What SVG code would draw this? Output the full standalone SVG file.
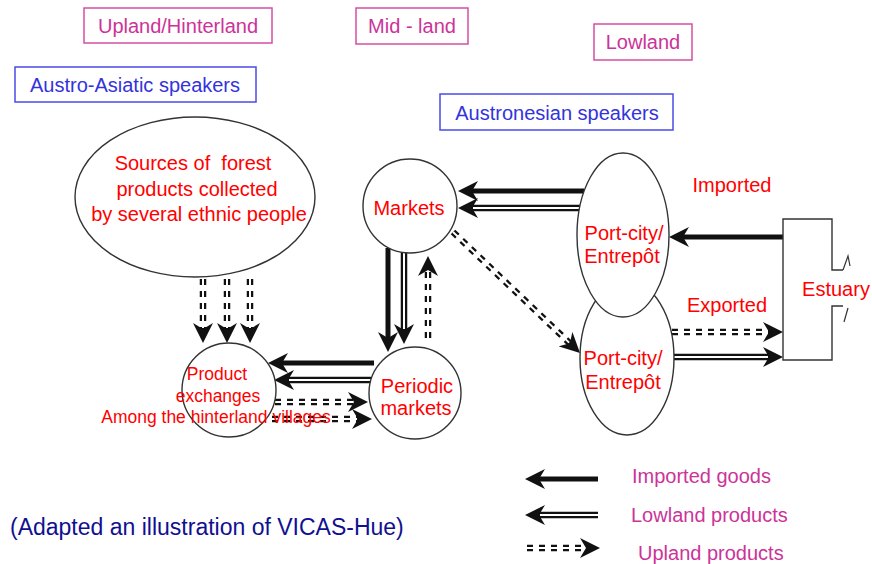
<svg xmlns="http://www.w3.org/2000/svg" width="872" height="564" viewBox="0 0 872 564">
<style>
text{font-family:"Liberation Sans",Arial,sans-serif;}
.redm{fill:#ff0000;font-size:20px;text-anchor:middle;}
.reds{fill:#ff0000;font-size:17.5px;text-anchor:middle;}
.pink{fill:#cc3399;font-size:20px;text-anchor:middle;}
.blue{fill:#3333dd;font-size:20px;text-anchor:middle;}
.leg{fill:#cc3399;font-size:20px;}
.pbox{fill:none;stroke:#d64ea3;stroke-width:1.5;}
.bbox{fill:none;stroke:#4a4ae8;stroke-width:1.5;}
.node{fill:#fff;stroke:#333;stroke-width:1.4;}
.thick{fill:none;stroke:#111;stroke-width:5;marker-end:url(#ah);}
.dbl{fill:none;stroke:#111;stroke-width:6.5;marker-end:url(#ah);}
.dsh{fill:none;stroke:#111;stroke-width:6.5;stroke-dasharray:6 6;marker-end:url(#ah);}
.wl{fill:none;stroke:#fff;stroke-width:2;}
</style>
<defs>
<marker id="ah" viewBox="0 0 20 20" refX="8" refY="10" markerWidth="20" markerHeight="20" markerUnits="userSpaceOnUse" orient="auto">
<path d="M0,0 L20,10 L0,20 L6,10 z" fill="#111"/>
</marker>
</defs>
<rect width="872" height="564" fill="#fff"/>

<g id="label-upland"><rect class="pbox" x="84" y="8" width="188" height="35"/><text class="pink" x="178" y="33">Upland/Hinterland</text></g>
<g id="label-austroasiatic"><rect class="bbox" x="15" y="67" width="241" height="35"/><text class="blue" x="135" y="92">Austro-Asiatic speakers</text></g>
<g id="label-midland"><rect class="pbox" x="356" y="8" width="112" height="36"/><text class="pink" x="412" y="33">Mid - land</text></g>
<g id="label-lowland"><rect class="pbox" x="594" y="24" width="98" height="36"/><text class="pink" x="643" y="49">Lowland</text></g>
<g id="label-austronesian"><rect class="bbox" x="440" y="94" width="233" height="36"/><text class="blue" x="557" y="120">Austronesian speakers</text></g>

<g id="connectors">
<path class="thick" d="M783,237 H681"/>
<path class="thick" d="M584,191 H470"/>
<path class="dbl" d="M580,208 H470"/><path class="wl" d="M580,208 H473"/>
<path class="thick" d="M388,248 V340"/>
<path class="dbl" d="M404,252 V332"/><path class="wl" d="M404,252 V329"/>
<path class="dsh" d="M428,338 V268"/><path class="wl" d="M428,338 V271"/>
<path class="thick" d="M374,363 H280"/>
<path class="dbl" d="M371,380 H286"/><path class="wl" d="M371,380 H289"/>
<path class="dsh" d="M275,402 H356"/><path class="wl" d="M275,402 H353"/>
<path class="dsh" d="M272,419 H360"/><path class="wl" d="M272,419 H357"/>
<path class="dsh" d="M453,232 L571.3,344.7"/><path class="wl" d="M453,232 L569.1,342.6"/>
<path class="dsh" d="M672,332 H771"/><path class="wl" d="M672,332 H768"/>
<path class="dbl" d="M674,357 H771"/><path class="wl" d="M674,357 H768"/>
<path class="dsh" d="M203,279 V331"/><path class="wl" d="M203,279 V328"/>
<path class="dsh" d="M227,279 V331"/><path class="wl" d="M227,279 V328"/>
<path class="dsh" d="M250,279 V331"/><path class="wl" d="M250,279 V328"/>
</g>

<g id="node-forest"><ellipse class="node" cx="195" cy="197" rx="120" ry="80"/>
<text class="redm" x="193" y="170" xml:space="preserve">Sources of  forest</text>
<text class="redm" x="197" y="196">products collected</text>
<text class="redm" x="199" y="221">by several ethnic people</text></g>

<g id="node-markets"><circle class="node" cx="410" cy="206" r="47"/><text class="redm" x="409" y="215">Markets</text></g>

<g id="node-periodic"><circle class="node" cx="415" cy="393" r="46"/>
<text class="redm" x="417" y="393">Periodic</text><text class="redm" x="416" y="415">markets</text></g>

<g id="node-exchanges"><circle class="node" cx="229" cy="390" r="47" style="fill:none"/>
<text class="reds" x="217" y="380">Product</text>
<text class="reds" x="218" y="402">exchanges</text>
<text class="reds" x="216" y="423">Among the hinterland villages</text></g>

<g id="node-port-lower"><ellipse class="node" cx="627" cy="358" rx="47" ry="77"/>
<text class="redm" x="623" y="365">Port-city/</text><text class="redm" x="623" y="389">Entrepôt</text></g>

<g id="node-port-upper"><ellipse class="node" cx="623" cy="235" rx="46" ry="82"/>
<text class="redm" x="624" y="240">Port-city/</text><text class="redm" x="622" y="263">Entrepôt</text></g>

<g id="node-estuary">
<path d="M843,270 L832,270 L832,219 L783,219 L783,360 L832,360 L832,306 L843,306" fill="none" stroke="#333" stroke-width="1.4"/>
<path d="M843,270 L848,256 L850,266" fill="none" stroke="#333" stroke-width="1.2"/>
<path d="M844,322 L848,308" fill="none" stroke="#333" stroke-width="1.2"/>
<text class="redm" x="836" y="296">Estuary</text></g>

<text class="redm" x="732" y="192">Imported</text>
<text class="redm" x="727" y="312">Exported</text>

<g id="legend">
<path class="thick" d="M598,479 H537"/>
<path class="dbl" d="M598,515 H537"/><path class="wl" d="M598,515 H540"/>
<path class="dsh" d="M527,548 H588"/><path class="wl" d="M527,548 H585"/>
<text class="leg" x="632" y="483">Imported goods</text>
<text class="leg" x="631" y="522">Lowland products</text>
<text class="leg" x="638" y="560">Upland products</text>
</g>

<text x="10" y="535" style="fill:#101090;font-size:23px;">(Adapted an illustration of VICAS-Hue)</text>
</svg>
